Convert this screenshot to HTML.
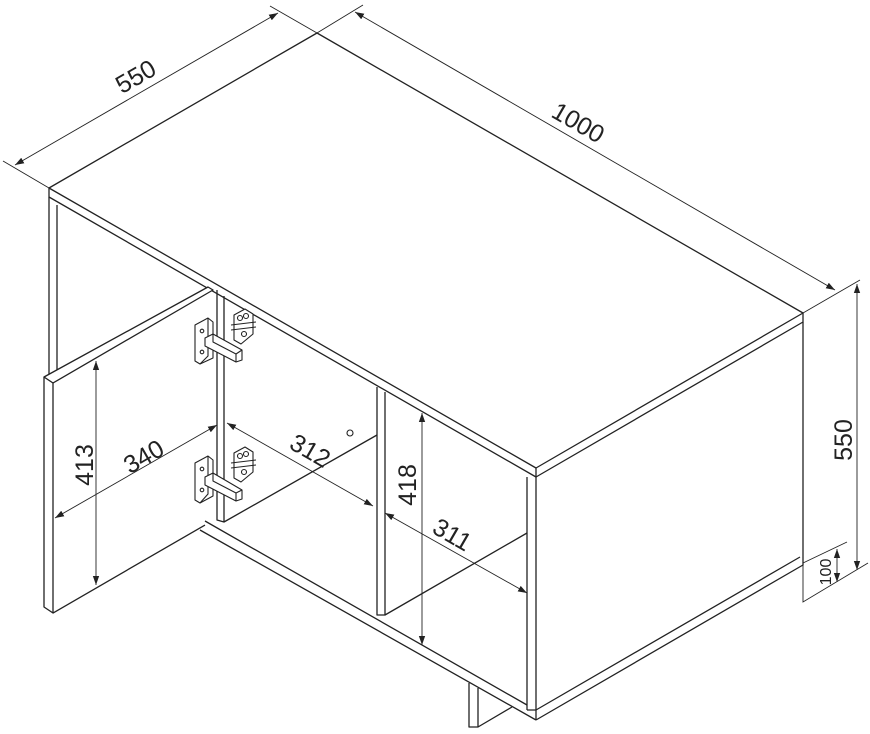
<!DOCTYPE html>
<html><head><meta charset="utf-8"><style>
html,body{margin:0;padding:0;background:#fff;}
svg{display:block;}
text{font-family:"Liberation Sans",Arial,sans-serif;fill:#222;}
</style></head><body>
<svg width="870" height="734" viewBox="0 0 870 734" xmlns="http://www.w3.org/2000/svg">
<defs>
<marker id="a" viewBox="0 0 10 10" refX="10" refY="5" markerWidth="9" markerHeight="9" orient="auto-start-reverse" markerUnits="userSpaceOnUse">
<path d="M0,1.5 L10,5 L0,8.5 z" fill="#222"/></marker>
</defs>
<g fill="none" stroke="#222" stroke-width="1.3" stroke-linejoin="round">
<path d="M49,188 L317,33 L803,313 L536,468 Z" fill="#fff"/>
<path d="M49,188 L49,197 L536,477 L536,468"/>
<path d="M536,477 L803,322 L803,313"/>
<path d="M49,197 L49,375 M57,205 L57,372"/>
<path d="M527,477 L527,710 M536,477 L536,720 M803,322 L803,557"/>
<path d="M527,710 L536,710 L800,557"/>
<path d="M536,720 L803,565 L803,557"/>
<path d="M205,521 L527,705 M200,530 L536,720"/>
<path d="M469,683 L469,727 L478,727 L478,688 M478,727 L512,707"/>
<path d="M217,290 L217,520 L224,522 L224,296 M224,522 L377,435"/>
<path d="M377,387 L377,615 L385,615 L385,392 M385,615 L527,533"/>
<path d="M44,377 L208,287 L213,290 L53,383 Z" fill="#fff"/>
<path d="M44,377 L44,607 L53,613 L53,383"/>
<path d="M53,613 L205,525"/>
<g stroke-width="1.1">
<path d="M195,325 L208,318 L213,322 L213,358 L200,364 L195,361 Z" fill="#fff"/>
<path d="M208,318 L208,356 L200,364"/>
<circle cx="202" cy="331" r="1.8"/><circle cx="202" cy="352" r="1.8"/>
<path d="M205,338 L213,334 L242,350 L242,360 L236,362 L205,346 Z" fill="#fff"/>
<path d="M213,334 L213,342 L236,354 L242,350 M236,354 L236,362"/>
<path d="M234,315 L245,309 L253,314 L253,334 L241,344 L234,340 Z" fill="#fff"/>
<circle cx="240" cy="318" r="2.5"/><circle cx="246" cy="316" r="2.5"/><circle cx="244" cy="334" r="2.5"/>
<path d="M231,325 L256,322 M231,330 L256,327"/>
<path d="M195,463 L208,456 L213,460 L213,496 L200,503 L195,500 Z" fill="#fff"/>
<path d="M208,456 L208,494 L200,503"/>
<circle cx="202" cy="469" r="1.8"/><circle cx="202" cy="490" r="1.8"/>
<path d="M205,477 L213,473 L242,490 L242,499 L236,501 L205,485 Z" fill="#fff"/>
<path d="M213,473 L213,481 L236,493 L242,490 M236,493 L236,501"/>
<path d="M234,453 L245,447 L253,452 L253,472 L241,482 L234,478 Z" fill="#fff"/>
<circle cx="240" cy="456" r="2.5"/><circle cx="246" cy="454" r="2.5"/><circle cx="244" cy="472" r="2.5"/>
<path d="M231,463 L256,460 M231,468 L256,465"/>
<circle cx="350" cy="433" r="3"/>
</g>
</g>
<g stroke="#222" stroke-width="0.9" fill="none">
<path d="M3,161 L49,188 M270,6 L317,33 M317,33 L363,5 M803,313 L860,280"/>
<path d="M15,165 L278,13" marker-start="url(#a)" marker-end="url(#a)"/>
<path d="M355,12 L835,290" marker-start="url(#a)" marker-end="url(#a)"/>
<path d="M857,284 L857,570" marker-start="url(#a)" marker-end="url(#a)"/>
<path d="M803,557 L803,602 L868,563 M803,563 L847,542"/>
<path d="M837,549 L837,582" marker-start="url(#a)" marker-end="url(#a)"/>
<path d="M422,413 L422,645" marker-start="url(#a)" marker-end="url(#a)"/>
<path d="M385,513 L527,593" marker-start="url(#a)" marker-end="url(#a)"/>
<path d="M96,361 L96,585" marker-start="url(#a)" marker-end="url(#a)"/>
<path d="M55,518 L217,425" marker-start="url(#a)" marker-end="url(#a)"/>
<path d="M227,423 L373,506" marker-start="url(#a)" marker-end="url(#a)"/>
</g>
<g font-size="25">
<text transform="translate(140,84) rotate(-30)" text-anchor="middle">550</text>
<text transform="translate(574,130) rotate(30)" text-anchor="middle">1000</text>
<text transform="translate(852,440) rotate(-90)" text-anchor="middle">550</text>
<text transform="translate(416,485) rotate(-90)" text-anchor="middle">418</text>
<text transform="translate(448,542) rotate(30)" text-anchor="middle">311</text>
<text transform="translate(93,465) rotate(-90)" text-anchor="middle">413</text>
<text transform="translate(148,464) rotate(-30)" text-anchor="middle">340</text>
<text transform="translate(306,458) rotate(30)" text-anchor="middle">312</text>
</g>
<text transform="translate(831,572) rotate(-90)" text-anchor="middle" font-size="16">100</text>
</svg>
</body></html>
